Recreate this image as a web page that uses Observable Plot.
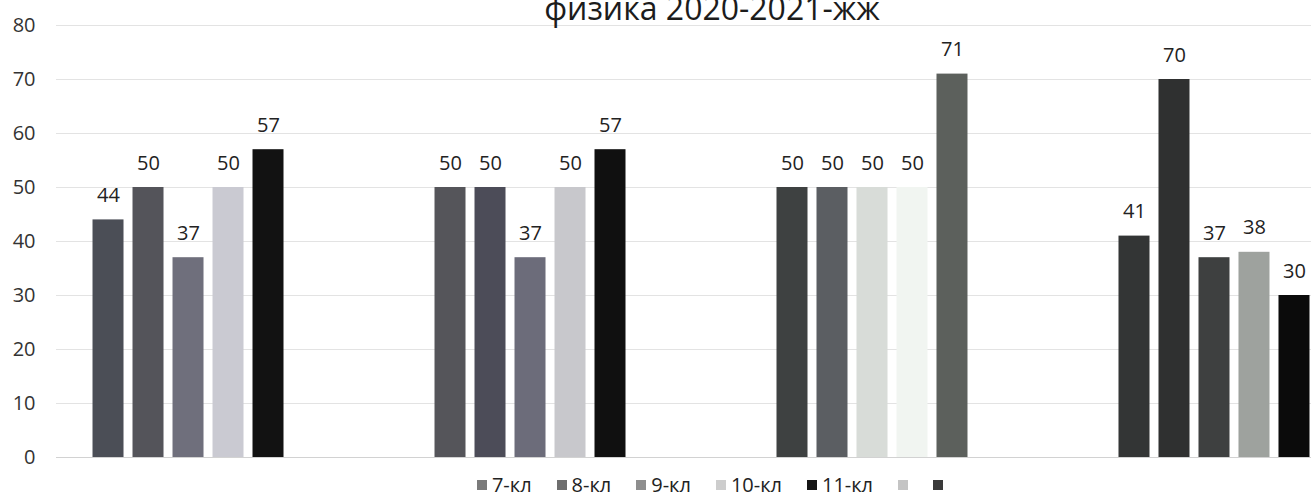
<!DOCTYPE html>
<html>
<head>
<meta charset="utf-8">
<script src="https://cdn.jsdelivr.net/npm/d3@7"></script>
<script src="https://cdn.jsdelivr.net/npm/@observablehq/plot@0.6"></script>
<style>
  html, body { margin: 0; padding: 0; background: #fff; overflow: hidden; }
  #wrap { position: relative; width: 1311px; height: 499px; overflow: hidden; background: #fff; font-family: "Open Sans", sans-serif; }
  #bg, #fg { position: absolute; left: 0; top: 0; }
  #title { position: absolute; left: 0; width: 1424px; top: -8px; text-align: center; font-size: 32px; line-height: 32px; color: #1c1c1c; white-space: nowrap; }
  #legend { position: absolute; left: 0; width: 1420px; top: 473px; display: flex; justify-content: center; align-items: center; gap: 25px; font-size: 20px; line-height: 24px; color: #222; }
  #legend .item { display: flex; align-items: center; gap: 5px; line-height: 24px; }
  #legend .sw { width: 10px; height: 10px; display: inline-block; }
</style>
</head>
<body>
<div id="wrap">
  <div id="bg"></div>
  <div id="fg"></div>
  <div id="title"></div>
  <div id="legend"></div>
</div>
<script>
// ---- data ----
const title = "физика 2020-2021-жж";
const groups = ["1", "2", "3", "4"];
const series = ["7-кл", "8-кл", "9-кл", "10-кл", "11-кл", "", " "];
const v7  = [44, 50, 50, 41];
const v8  = [50, 50, 50, 70];
const v9  = [37, 37, 50, 37];
const v10 = [50, 50, 50, 38];
const v11 = [57, 57, 71, 30];
const yTicks = [0, 10, 20, 30, 40, 50, 60, 70, 80];

// ---- styles ----
const legendColors = ["#7a7a7a", "#6e6e6e", "#8e8e8e", "#cdcdcd", "#151515", "#c4c4c4", "#3a3a3a"];
const barColors = [
  ["#4b4e56", "#54545a", "#6f6f7c", "#cacad2", "#121212"],
  ["#55555a", "#4c4c58", "#6c6c7a", "#c8c8cc", "#101010"],
  ["#3e4141", "#5b5e62", "#d8dcd8", "#f1f5f1", "#5c605c"],
  ["#333535", "#2f3030", "#3e4040", "#9ea29e", "#0b0b0b"]
];

const seriesValues = [v7, v8, v9, v10, v11];
const rows = groups.flatMap((g, gi) =>
  seriesValues.map((vals, si) => ({group: g, series: series[si], value: vals[gi], gi, si}))
);

const W = 1426, H = 462;
const common = {width: W, height: H, marginLeft: 56, marginRight: 0, marginTop: 25, marginBottom: 5};

// background: y axis + gridlines
const bg = Plot.plot({
  ...common,
  style: {background: "transparent", maxWidth: "none", fontSize: "20px", fontFamily: "Open Sans, sans-serif", color: "#333", overflow: "visible"},
  y: {domain: [0, 80], ticks: yTicks, tickSize: 0, tickPadding: 21, label: null},
  marks: [
    Plot.ruleY(yTicks, {stroke: d => d === 0 ? "#d2d2d2" : "#e3e3e3", strokeWidth: 1})
  ]
});
document.getElementById("bg").appendChild(bg);

// foreground: grouped bars with labels
const fg = Plot.plot({
  ...common,
  style: {background: "transparent", maxWidth: "none", fontSize: "20px", fontFamily: "Open Sans, sans-serif", overflow: "visible"},
  facet: {data: rows, x: "group"},
  fx: {domain: groups, axis: null, paddingInner: 0.1813, paddingOuter: 0.0936, round: false},
  x: {domain: series, axis: null, paddingInner: 0.225, paddingOuter: 0.1125, round: false},
  y: {domain: [0, 80], axis: null},
  color: {type: "identity"},
  marks: [
    Plot.barY(rows, {x: "series", y: "value", fill: d => barColors[d.gi][d.si]}),
    Plot.text(rows, {x: "series", y: "value", text: d => String(d.value), dy: -18, lineAnchor: "bottom", fill: "#222", fontSize: 20})
  ]
});
document.getElementById("fg").appendChild(fg);

document.getElementById("title").textContent = title;

const legend = document.getElementById("legend");
series.forEach((s, i) => {
  const item = document.createElement("div");
  item.className = "item";
  const sw = document.createElement("span");
  sw.className = "sw";
  sw.style.background = legendColors[i];
  item.appendChild(sw);
  if (s.trim() !== "") {
    const t = document.createElement("span");
    t.textContent = s;
    item.appendChild(t);
  }
  legend.appendChild(item);
});
</script>
</body>
</html>
